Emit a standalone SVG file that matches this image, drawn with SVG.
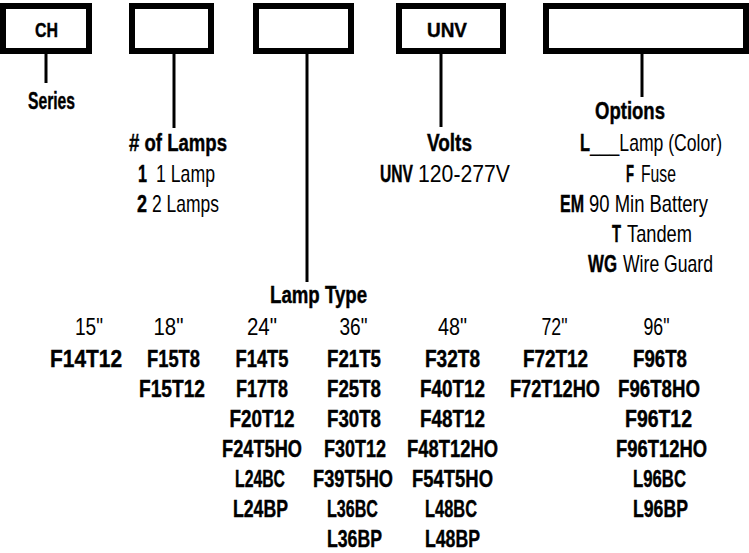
<svg xmlns="http://www.w3.org/2000/svg" width="749" height="553" viewBox="0 0 749 553">
<style>
text{font-family:"Liberation Sans",Arial,sans-serif;font-size:23px;fill:#000;text-anchor:middle}
.b{font-weight:bold;stroke:#000;stroke-width:0.4}
.r{font-weight:normal;stroke:none}
.s{text-anchor:start}
.box{fill:#fff;stroke:#000;stroke-width:6}
.con line{stroke:#000;stroke-width:3}
.sm{font-size:20px;font-weight:bold;stroke:#000;stroke-width:0.4}
</style>
<rect width="749" height="553" fill="#fff"/>
<g class="con" id="connectors">
<line x1="46" y1="54" x2="46" y2="83"/>
<line x1="174" y1="54" x2="174" y2="128"/>
<line x1="307" y1="54" x2="307" y2="282"/>
<line x1="441" y1="54" x2="441" y2="127"/>
<line x1="642" y1="54" x2="642" y2="97"/>
</g>
<g id="series">
<rect class="box" x="3" y="6" width="86" height="45"/>
<text class="sm" x="46.5" y="37" textLength="23" lengthAdjust="spacingAndGlyphs">CH</text>
<text class="b" x="51.5" y="109" textLength="47" lengthAdjust="spacingAndGlyphs">Series</text>
</g>
<g id="lamps">
<rect class="box" x="132" y="6" width="79" height="45"/>
<text class="b" x="178" y="151" textLength="98" lengthAdjust="spacingAndGlyphs"># of Lamps</text>
<text class="b s" transform="translate(138,182) scale(0.75,1)" textLength="12" lengthAdjust="spacingAndGlyphs">1</text>
<text class="r s" transform="translate(156,182) scale(0.75,1)" textLength="78.67" lengthAdjust="spacingAndGlyphs">1 Lamp</text>
<text class="b s" transform="translate(137,212) scale(0.75,1)" textLength="13.33" lengthAdjust="spacingAndGlyphs">2</text>
<text class="r s" transform="translate(152,212) scale(0.75,1)" textLength="89.33" lengthAdjust="spacingAndGlyphs">2 Lamps</text>
</g>
<g id="lamptype">
<rect class="box" x="256" y="6" width="95" height="45"/>
<text class="b" x="318.5" y="303" textLength="97" lengthAdjust="spacingAndGlyphs">Lamp Type</text>
<g>
<text class="r" x="89" y="335" textLength="28" lengthAdjust="spacingAndGlyphs">15"</text>
<text class="r" x="168.5" y="335" textLength="30" lengthAdjust="spacingAndGlyphs">18"</text>
<text class="r" x="262" y="335" textLength="30" lengthAdjust="spacingAndGlyphs">24"</text>
<text class="r" x="353.5" y="335" textLength="28" lengthAdjust="spacingAndGlyphs">36"</text>
<text class="r" x="452.5" y="335" textLength="29" lengthAdjust="spacingAndGlyphs">48"</text>
<text class="r" x="554.5" y="335" textLength="26" lengthAdjust="spacingAndGlyphs">72"</text>
<text class="r" x="656.5" y="335" textLength="26" lengthAdjust="spacingAndGlyphs">96"</text>
</g>
<g>
<text class="b" x="86" y="367" textLength="72" lengthAdjust="spacingAndGlyphs">F14T12</text>
<text class="b" x="173.5" y="367" textLength="53" lengthAdjust="spacingAndGlyphs">F15T8</text>
<text class="b" x="172" y="397" textLength="66" lengthAdjust="spacingAndGlyphs">F15T12</text>
<text class="b" x="262" y="367" textLength="53" lengthAdjust="spacingAndGlyphs">F14T5</text>
<text class="b" x="262" y="397" textLength="52" lengthAdjust="spacingAndGlyphs">F17T8</text>
<text class="b" x="262" y="427" textLength="65" lengthAdjust="spacingAndGlyphs">F20T12</text>
<text class="b" x="262" y="457" textLength="80" lengthAdjust="spacingAndGlyphs">F24T5HO</text>
<text class="b" x="260" y="487" textLength="50" lengthAdjust="spacingAndGlyphs">L24BC</text>
<text class="b" x="260.5" y="517" textLength="55" lengthAdjust="spacingAndGlyphs">L24BP</text>
<text class="b" x="354" y="367" textLength="54" lengthAdjust="spacingAndGlyphs">F21T5</text>
<text class="b" x="354" y="397" textLength="54" lengthAdjust="spacingAndGlyphs">F25T8</text>
<text class="b" x="354" y="427" textLength="54" lengthAdjust="spacingAndGlyphs">F30T8</text>
<text class="b" x="355" y="457" textLength="62" lengthAdjust="spacingAndGlyphs">F30T12</text>
<text class="b" x="353" y="487" textLength="80" lengthAdjust="spacingAndGlyphs">F39T5HO</text>
<text class="b" x="352.5" y="517" textLength="51" lengthAdjust="spacingAndGlyphs">L36BC</text>
<text class="b" x="354.5" y="547" textLength="55" lengthAdjust="spacingAndGlyphs">L36BP</text>
<text class="b" x="452.5" y="367" textLength="55" lengthAdjust="spacingAndGlyphs">F32T8</text>
<text class="b" x="452.5" y="397" textLength="65" lengthAdjust="spacingAndGlyphs">F40T12</text>
<text class="b" x="452.5" y="427" textLength="65" lengthAdjust="spacingAndGlyphs">F48T12</text>
<text class="b" x="452.5" y="457" textLength="91" lengthAdjust="spacingAndGlyphs">F48T12HO</text>
<text class="b" x="452.5" y="487" textLength="81" lengthAdjust="spacingAndGlyphs">F54T5HO</text>
<text class="b" x="451" y="517" textLength="52" lengthAdjust="spacingAndGlyphs">L48BC</text>
<text class="b" x="452.5" y="547" textLength="55" lengthAdjust="spacingAndGlyphs">L48BP</text>
<text class="b" x="555.5" y="367" textLength="65" lengthAdjust="spacingAndGlyphs">F72T12</text>
<text class="b" x="555" y="397" textLength="90" lengthAdjust="spacingAndGlyphs">F72T12HO</text>
<text class="b" x="660" y="367" textLength="54" lengthAdjust="spacingAndGlyphs">F96T8</text>
<text class="b" x="659" y="397" textLength="82" lengthAdjust="spacingAndGlyphs">F96T8HO</text>
<text class="b" x="658.5" y="427" textLength="67" lengthAdjust="spacingAndGlyphs">F96T12</text>
<text class="b" x="661.5" y="457" textLength="91" lengthAdjust="spacingAndGlyphs">F96T12HO</text>
<text class="b" x="659.5" y="487" textLength="53" lengthAdjust="spacingAndGlyphs">L96BC</text>
<text class="b" x="660.5" y="517" textLength="55" lengthAdjust="spacingAndGlyphs">L96BP</text>
</g>
</g>
<g id="volts">
<rect class="box" x="399" y="6" width="104" height="45"/>
<text class="sm" x="447" y="37" textLength="40" lengthAdjust="spacingAndGlyphs">UNV</text>
<text class="b" x="449.5" y="151" textLength="45" lengthAdjust="spacingAndGlyphs">Volts</text>
<text class="b s" transform="translate(380,182) scale(0.75,1)" textLength="44" lengthAdjust="spacingAndGlyphs">UNV</text>
<text class="r s" transform="translate(418,182) scale(0.75,1)" textLength="122.67" lengthAdjust="spacingAndGlyphs">120-277V</text>
</g>
<g id="options">
<rect class="box" x="546" y="6" width="200" height="45"/>
<text class="b" x="630" y="119" textLength="70" lengthAdjust="spacingAndGlyphs">Options</text>
<text class="b s" transform="translate(580,151) scale(0.75,1)" textLength="13.33" lengthAdjust="spacingAndGlyphs">L</text>
<text class="r s" transform="translate(590,151) scale(0.75,1)" textLength="176" lengthAdjust="spacingAndGlyphs">___Lamp (Color)</text>
<text class="b s" transform="translate(626,182) scale(0.75,1)" textLength="10.67" lengthAdjust="spacingAndGlyphs">F</text>
<text class="r s" transform="translate(641,182) scale(0.75,1)" textLength="46.67" lengthAdjust="spacingAndGlyphs">Fuse</text>
<text class="b s" transform="translate(560,212) scale(0.75,1)" textLength="32" lengthAdjust="spacingAndGlyphs">EM</text>
<text class="r s" transform="translate(589,212) scale(0.75,1)" textLength="158.67" lengthAdjust="spacingAndGlyphs">90 Min Battery</text>
<text class="b s" transform="translate(612,242) scale(0.75,1)" textLength="12" lengthAdjust="spacingAndGlyphs">T</text>
<text class="r s" transform="translate(627,242) scale(0.75,1)" textLength="86.67" lengthAdjust="spacingAndGlyphs">Tandem</text>
<text class="b s" transform="translate(588,272) scale(0.75,1)" textLength="38.67" lengthAdjust="spacingAndGlyphs">WG</text>
<text class="r s" transform="translate(623,272) scale(0.75,1)" textLength="120" lengthAdjust="spacingAndGlyphs">Wire Guard</text>
</g>
</svg>
